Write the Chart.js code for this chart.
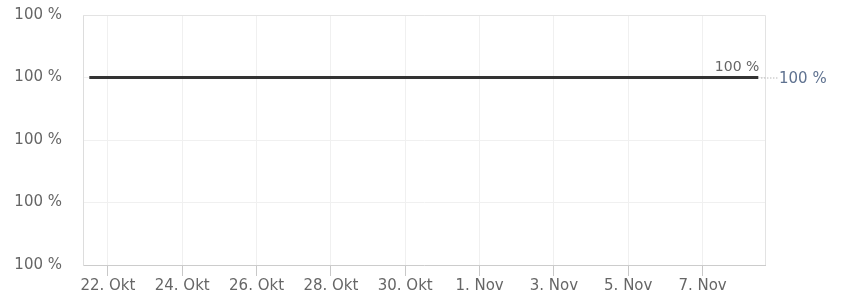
<!DOCTYPE html>
<html>
<head>
<meta charset="utf-8">
<script src="https://cdn.jsdelivr.net/npm/chart.js@4"></script>
<style>
  html, body { margin: 0; padding: 0; background: #fff; }
  #wrap { width: 842px; height: 296px; }
</style>
</head>
<body>
<div id="wrap"><canvas id="lineChart" width="842" height="296"></canvas></div>
<script>
// days counted from 22. Okt, points at noon
const days = [-0.5, 0.5, 1.5, 2.5, 3.5, 4.5, 5.5, 6.5, 7.5, 8.5, 9.5, 10.5, 11.5, 12.5, 13.5, 14.5, 15.5, 16.5, 17.5];
const values = [100, 100, 100, 100, 100, 100, 100, 100, 100, 100, 100, 100, 100, 100, 100, 100, 100, 100, 100];
const tickDays = [0, 2, 4, 6, 8, 10, 12, 14, 16];
const tickLabels = ["22. Okt", "24. Okt", "26. Okt", "28. Okt", "30. Okt", "1. Nov", "3. Nov", "5. Nov", "7. Nov"];
const yTicks = [99.97, 99.98, 99.99, 100, 100.01];

const FONT = "'DejaVu Sans', sans-serif";

// labels at the end of the line + box around the plot
const extras = {
  id: "extras",
  afterDraw(chart) {
    const ctx = chart.ctx;
    const a = chart.chartArea;
    const xs = chart.scales.x, ys = chart.scales.y;
    ctx.save();
    ctx.strokeStyle = "#e3e3e3";
    ctx.lineWidth = 1;
    ctx.beginPath();
    ctx.moveTo(a.left, a.top + 0.5);
    ctx.lineTo(a.right + 0.5, a.top + 0.5);
    ctx.lineTo(a.right + 0.5, a.bottom);
    ctx.stroke();

    const last = days.length - 1;
    const px = xs.getPixelForValue(days[last]);
    const py = ys.getPixelForValue(values[last]);
    ctx.font = "14px " + FONT;
    ctx.fillStyle = "#666";
    ctx.textAlign = "right";
    ctx.textBaseline = "bottom";
    ctx.fillText(Math.round(values[last]) + " %", px + 1, py - 3);

    ctx.strokeStyle = "#999";
    ctx.setLineDash([1, 2]);
    ctx.beginPath();
    ctx.moveTo(px + 3, py + 0.5);
    ctx.lineTo(a.right + 13, py + 0.5);
    ctx.stroke();
    ctx.setLineDash([]);
    ctx.font = "15px " + FONT;
    ctx.fillStyle = "#5f7290";
    ctx.textAlign = "left";
    ctx.textBaseline = "middle";
    ctx.fillText(Math.round(values[last]) + " %", a.right + 14, py + 2);
    ctx.restore();
  }
};

new Chart(document.getElementById("lineChart"), {
  type: "line",
  data: {
    datasets: [{
      data: days.map((d, i) => ({ x: d, y: values[i] })),
      borderColor: "#333",
      borderWidth: 3,
      pointRadius: 0,
      tension: 0
    }]
  },
  options: {
    responsive: false,
    animation: false,
    layout: { padding: { left: 0, right: 77, top: 15, bottom: 0 } },
    plugins: { legend: { display: false }, tooltip: { enabled: false } },
    scales: {
      x: {
        type: "linear",
        min: -0.67,
        max: 17.68,
        afterBuildTicks: (s) => { s.ticks = tickDays.map((v) => ({ value: v })); },
        afterFit: (s) => { s.height = 31; s.paddingLeft = 0; s.paddingRight = 0; },
        grid: { color: "#f0f0f0", tickColor: "#c8c8c8", tickLength: 11 },
        border: { color: "#ccc" },
        ticks: {
          color: "#666",
          font: { family: FONT, size: 15 },
          padding: 1,
          maxRotation: 0,
          autoSkip: false,
          callback: (v) => tickLabels[tickDays.indexOf(v)]
        }
      },
      y: {
        min: 99.97,
        max: 100.01,
        afterBuildTicks: (s) => { s.ticks = yTicks.map((v) => ({ value: v })); },
        afterFit: (s) => { s.width = 83; s.paddingTop = 0; s.paddingBottom = 0; },
        grid: { color: "#f0f0f0", tickLength: 0 },
        border: { color: "#ddd" },
        ticks: {
          color: "#666",
          font: { family: FONT, size: 15 },
          padding: 21,
          callback: (v) => Math.round(v) + " %"
        }
      }
    }
  },
  plugins: [extras]
});
</script>
</body>
</html>
